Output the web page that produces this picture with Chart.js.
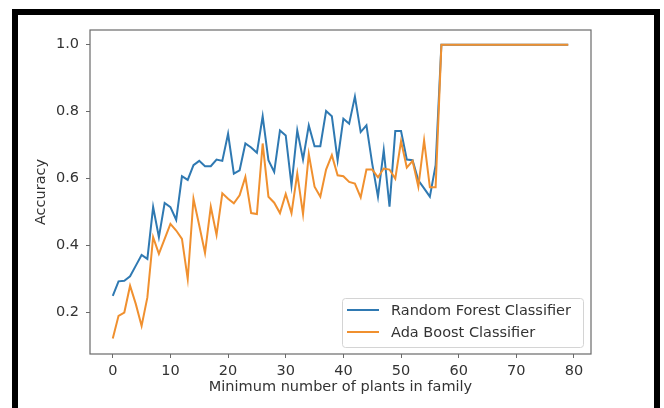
<!DOCTYPE html>
<html><head><meta charset="utf-8">
<script src="https://cdn.jsdelivr.net/npm/chart.js@4.4.1/dist/chart.umd.min.js"></script>
<style>
html,body{margin:0;padding:0;background:#fff;overflow:hidden;}
#wrap{position:relative;width:664px;height:408px;}
canvas{position:absolute;left:0;top:0;}
#frame{position:absolute;left:12px;top:9px;width:636px;height:430px;border:6px solid #000;border-bottom:none;pointer-events:none;}
</style></head><body>
<div id="wrap"><canvas id="c" width="664" height="408"></canvas><div id="frame"></div></div>
<script>
const minPlants = [0,1,2,3,4,5,6,7,8,9,10,11,12,13,14,15,16,17,18,19,20,21,22,23,24,25,26,27,28,29,30,31,32,33,34,35,36,37,38,39,40,41,42,43,44,45,46,47,48,49,50,51,52,53,54,55,56,57,58,59,60,61,62,63,64,65,66,67,68,69,70,71,72,73,74,75,76,77,78,79];
const randomForest = [0.25,0.293,0.295,0.308,0.34,0.372,0.36,0.515,0.425,0.527,0.515,0.477,0.607,0.596,0.64,0.653,0.637,0.637,0.657,0.653,
  0.734,0.615,0.625,0.705,0.693,0.677,0.786,0.655,0.62,0.744,0.729,0.58,0.744,0.657,0.759,0.697,0.697,0.802,0.786,0.655,
  0.779,0.764,0.845,0.739,0.759,0.645,0.546,0.685,0.516,0.742,0.742,0.657,0.655,0.595,0.571,0.546,0.64,
  1,1,1,1,1,1,1,1,1,1,1,1,1,1,1,1,1,1,1,1,1,1,1];
const adaBoost = [0.122,0.19,0.2,0.28,0.225,0.16,0.245,0.425,0.375,0.42,0.465,0.445,0.42,0.3,0.54,0.46,0.378,0.516,0.432,0.556,
  0.54,0.526,0.55,0.605,0.497,0.494,0.705,0.546,0.528,0.497,0.554,0.497,0.615,0.494,0.673,0.576,0.546,0.627,0.67,0.61,
  0.607,0.59,0.585,0.544,0.627,0.627,0.604,0.63,0.627,0.6,0.712,0.633,0.653,0.576,0.714,0.574,0.574,
  1,1,1,1,1,1,1,1,1,1,1,1,1,1,1,1,1,1,1,1,1,1,1];
const seriesNames = ['Random Forest Classifier','Ada Boost Classifier'];
const xTicks = [0,10,20,30,40,50,60,70,80];
const yTicks = [0.2,0.4,0.6,0.8,1.0];

const FONT = 'DejaVu Sans';
const TXT = '#333333';
const SPINE = '#6a6a6a';
const colors = ['#2f79b2','#f0902f'];

const spinesAndLegend = {
  id:'spinesAndLegend',
  afterDraw(chart){
    const ctx = chart.ctx;
    const {left,top,right,bottom} = chart.chartArea;
    ctx.save();
    ctx.strokeStyle = SPINE; ctx.lineWidth = 1.2;
    ctx.strokeRect(left, top, right-left, bottom-top);
    const w = 241, h = 49;
    const lx = right - 8 - w, ly = bottom - 7 - h;
    ctx.fillStyle = 'rgba(255,255,255,0.85)';
    ctx.strokeStyle = '#d4d4d4'; ctx.lineWidth = 1;
    ctx.beginPath();
    if (ctx.roundRect) ctx.roundRect(lx+0.5, ly+0.5, w, h, 3); else ctx.rect(lx+0.5, ly+0.5, w, h);
    ctx.fill(); ctx.stroke();
    ctx.font = '14.5px "' + FONT + '"';
    ctx.textBaseline = 'middle';
    chart.data.datasets.forEach((ds, i) => {
      const yy = ly + 12 + i*22;
      ctx.strokeStyle = ds.borderColor; ctx.lineWidth = 2;
      ctx.beginPath(); ctx.moveTo(lx+5, yy); ctx.lineTo(lx+37, yy); ctx.stroke();
      ctx.fillStyle = TXT;
      ctx.fillText(ds.label, lx+49, yy+1);
    });
    ctx.restore();
  }
};

new Chart(document.getElementById('c'), {
  type:'line',
  data:{
    datasets:[
      {label:seriesNames[0], data:minPlants.map((x,i)=>({x:x,y:randomForest[i]})), borderColor:colors[0], borderWidth:2, pointRadius:0, tension:0, fill:false, order:2},
      {label:seriesNames[1], data:minPlants.map((x,i)=>({x:x,y:adaBoost[i]})), borderColor:colors[1], borderWidth:2, pointRadius:0, tension:0, fill:false, order:1}
    ]
  },
  options:{
    responsive:false, animation:false, devicePixelRatio:1,
    layout:{padding:{left:29, top:30, right:73, bottom:10}},
    plugins:{legend:{display:false}, tooltip:{enabled:false}},
    scales:{
      x:{type:'linear', min:-3.95, max:82.95,
        afterBuildTicks:s=>{s.ticks = xTicks.map(v=>({value:v}));},
        afterFit:s=>{s.height = 44;},
        grid:{display:true, drawOnChartArea:false, drawTicks:true, tickLength:4, color:SPINE, lineWidth:1},
        border:{display:false},
        ticks:{color:TXT, font:{family:FONT, size:14.5}, padding:5, maxRotation:0, autoSkip:false, callback:v=>String(v)},
        title:{display:true, text:'Minimum number of plants in family', color:TXT, font:{family:FONT, size:14.5}, padding:{top:0,bottom:2}}
      },
      y:{type:'linear', min:0.076, max:1.044,
        afterBuildTicks:s=>{s.ticks = yTicks.map(v=>({value:v}));},
        afterFit:s=>{s.width = 61;},
        grid:{display:true, drawOnChartArea:false, drawTicks:true, tickLength:4, color:SPINE, lineWidth:1},
        border:{display:false},
        ticks:{color:TXT, font:{family:FONT, size:14.5}, padding:7, callback:v=>Number(v).toFixed(1)},
        title:{display:true, text:'Accuracy', color:TXT, font:{family:FONT, size:14.5}, padding:{top:4,bottom:4}}
      }
    }
  },
  plugins:[spinesAndLegend]
});
</script>
</body></html>
